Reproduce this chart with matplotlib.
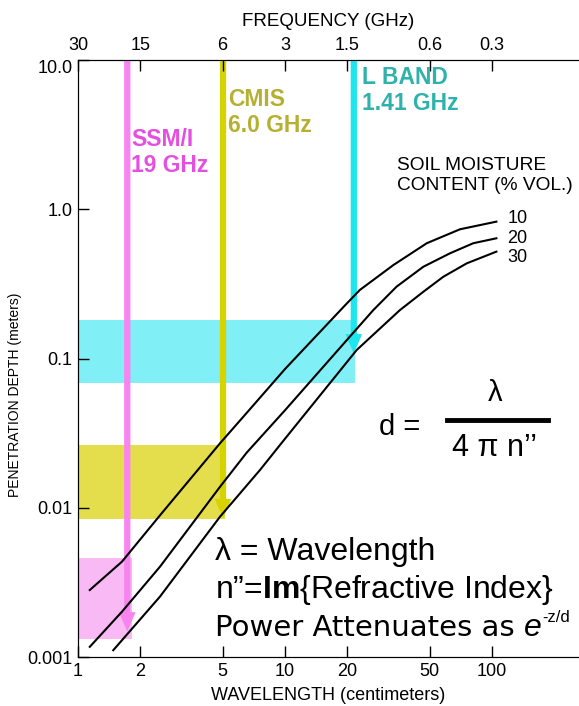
import numpy as np
import matplotlib.pyplot as plt

plt.rcParams['font.family'] = ['Liberation Sans', 'DejaVu Sans']
plt.rcParams['mathtext.fontset'] = 'custom'
plt.rcParams['mathtext.rm'] = 'Liberation Sans'
plt.rcParams['mathtext.it'] = 'Liberation Sans:italic'
plt.rcParams['mathtext.bf'] = 'Liberation Sans:bold'

# soil moisture curves: wavelength (cm) vs penetration depth (m)
wl_10 = [1.14, 1.63, 2.49, 4.85, 6.27, 10.0, 19.9, 23.0, 33.4, 48.4, 70.0, 105]
d_10 = [0.00281, 0.00435, 0.0089, 0.027, 0.0405, 0.085, 0.234, 0.288, 0.423, 0.592, 0.734, 0.826]
wl_20 = [1.14, 1.63, 2.49, 4.85, 6.53, 10.0, 21.3, 26.7, 34.6, 46.6, 62.7, 81.2, 105]
d_20 = [0.00117, 0.00201, 0.00403, 0.0138, 0.0234, 0.045, 0.148, 0.211, 0.303, 0.412, 0.507, 0.592, 0.639]
wl_30 = [1.48, 2.49, 4.85, 7.57, 10.0, 22.2, 35.9, 46.6, 58.2, 75.5, 105]
d_30 = [0.00111, 0.00254, 0.0087, 0.0179, 0.029, 0.114, 0.211, 0.280, 0.353, 0.434, 0.520]
moisture = ['10', '20', '30']

# sensor bands: wavelength of arrow, arrow tip depth, depth range of band, band right edge
sensors = ['SSM/I\n19 GHz', 'CMIS\n6.0 GHz', 'L BAND\n1.41 GHz']
sensor_wl = [1.73, 5.02, 21.5]
sensor_tip = [0.00148, 0.0085, 0.108]
band_lo = [0.00132, 0.0084, 0.0686]
band_hi = [0.0046, 0.0263, 0.181]
band_right = [1.82, 5.13, 21.8]

band_colors = ['#f8b9f4', '#e4de4c', '#80eff6']
arrow_colors = ['#f784ef', '#d6d300', '#1ee6ef']
text_colors = ['#e54fdf', '#b6b032', '#2fb2ab']

wl_ticks = [1, 2, 5, 10, 20, 50, 100]
freq_ticks = [30, 15, 6, 3, 1.5, 0.6, 0.3]
depth_ticks = [0.001, 0.01, 0.1, 1.0, 10.0]
depth_labels = ['0.001', '0.01', '0.1', '1.0', '10.0']

W, H = 579, 706
fig = plt.figure(figsize=(W / 100, H / 100), dpi=100)
ax = fig.add_axes([78 / W, 49 / H, 501 / W, 597 / H])


def px(x, y):
    return x / W, 1 - y / H


ax.set_xscale('log')
ax.set_yscale('log')
ax.set_xlim(1, 10 ** (501 / 207))
ax.set_ylim(0.001, 10)

for i in range(3):
    ax.fill_between([1, band_right[i]], band_lo[i], band_hi[i],
                    color=band_colors[i], lw=0, zorder=1)

for wl, d in [(wl_10, d_10), (wl_20, d_20), (wl_30, d_30)]:
    ax.plot(wl, d, color='black', lw=1.5, zorder=4, solid_joinstyle='round')
for lab, y, dy in zip(moisture, [d_10[-1], d_20[-1], d_30[-1]], [2.5, 0, -4.5]):
    ax.annotate(lab, (wl_10[-1], y), xytext=(8, dy), textcoords='offset points',
                fontsize=13, va='center', ha='left')

for i in range(3):
    ax.annotate('', xy=(sensor_wl[i], sensor_tip[i]), xytext=(sensor_wl[i], 10),
                arrowprops=dict(arrowstyle='simple,head_width=1.2,head_length=1.4,tail_width=0.45',
                                mutation_scale=10, color=arrow_colors[i],
                                shrinkA=0, shrinkB=0, lw=0), zorder=3)

ax.spines['right'].set_visible(False)
ax.minorticks_off()
ax.set_xticks(wl_ticks)
ax.set_xticklabels([str(t) for t in wl_ticks])
ax.set_yticks(depth_ticks)
ax.set_yticklabels(depth_labels)
ax.get_yticklabels()[-1].set_va('top')
ax.tick_params(direction='in', length=8, width=1, labelsize=13, pad=4)
ax.set_xlabel('WAVELENGTH (centimeters)', fontsize=13, labelpad=5)
ax.set_ylabel('PENETRATION DEPTH (meters)', fontsize=10)
ax.yaxis.set_label_coords(-0.112, 0.44)

top = ax.twiny()
top.set_xscale('log')
top.set_xlim(ax.get_xlim())
top.minorticks_off()
top.set_xticks([30 / f for f in freq_ticks])
top.set_xticklabels([f'{f:g}' for f in freq_ticks])
top.tick_params(direction='in', length=8, width=1, labelsize=13, pad=4)
top.spines['right'].set_visible(False)
top.set_xlabel('FREQUENCY (GHz)', fontsize=13.5, labelpad=8)

label_pos = [(131, 140), (228, 100), (362, 77)]
for i in range(3):
    l1, l2 = sensors[i].split('\n')
    x, y = label_pos[i]
    fig.text(*px(x, y), l1, color=text_colors[i], fontsize=16.5, fontweight='bold',
             va='center', ha='left')
    fig.text(*px(x, y + 26), l2, color=text_colors[i], fontsize=16.5, fontweight='bold',
             va='center', ha='left')

fig.text(*px(397, 165), 'SOIL MOISTURE', fontsize=13.8, va='center')
fig.text(*px(397, 186), 'CONTENT (% VOL.)', fontsize=13.8, va='center')

fig.text(*px(400, 427), 'd =', fontsize=21, ha='center', va='center')
fig.text(*px(495, 393), 'λ', fontsize=21, ha='center', va='center')
fig.text(*px(494, 448), '4 π n’’', fontsize=22, ha='center', va='center')
fig.add_artist(plt.Line2D([447 / W, 548 / W], [1 - 420 / H, 1 - 420 / H], color='black', lw=3.5))

fig.text(*px(215, 552), 'λ = Wavelength', fontsize=23, va='center')
fig.text(*px(215, 590), r'n”=$\mathbf{Im}${Refractive Index}', fontsize=23, va='center')
t3 = fig.text(*px(215, 628), 'Power Attenuates as ', fontsize=21, va='center',
              family=['DejaVu Sans'])
fig.canvas.draw()
x_end = t3.get_window_extent().x1
t_e = fig.text(x_end / W, 1 - 628 / H, 'e', fontsize=23, style='italic', va='center')
fig.canvas.draw()
x_sup = t_e.get_window_extent().x1 + 1
fig.text(x_sup / W, 1 - 617 / H, '-z/d', fontsize=12, va='center')

fig.savefig('out.png', dpi=100)
